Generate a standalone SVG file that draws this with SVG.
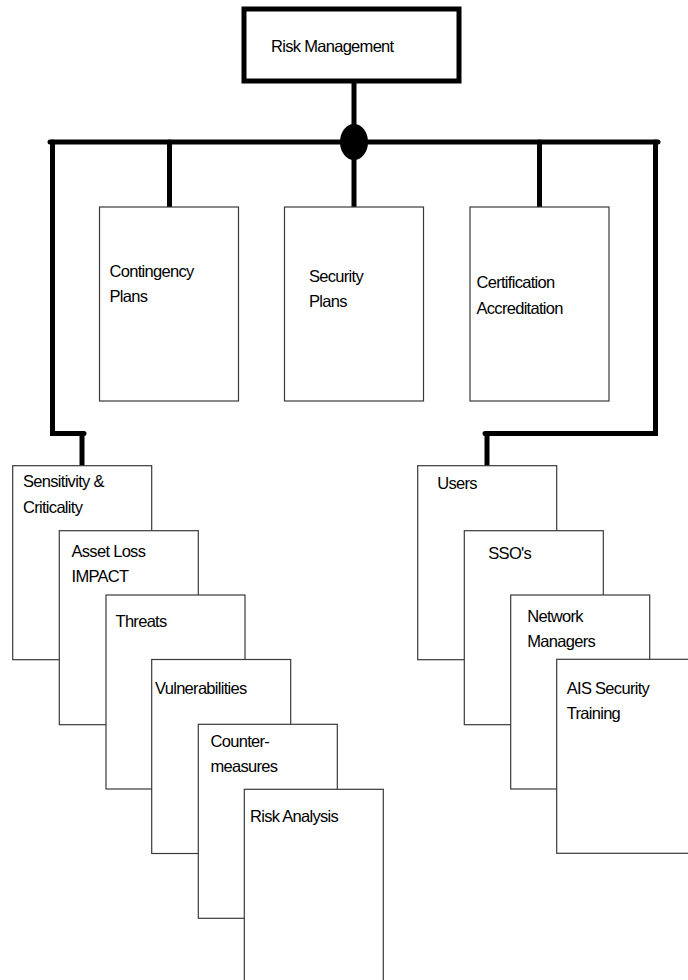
<svg xmlns="http://www.w3.org/2000/svg" width="688" height="980" viewBox="0 0 688 980">
<style>
.box{fill:#fff;stroke:#3a3a3a;stroke-width:1.2}
.top{fill:#fff;stroke:#000;stroke-width:5}
.wire{fill:none;stroke:#000;stroke-width:5;stroke-linecap:round;stroke-linejoin:miter}
text{font-family:"Liberation Sans",Arial,sans-serif;font-size:16.5px;fill:#000;letter-spacing:-0.7px}
</style>
<rect width="688" height="980" fill="#fff"/>
<g id="connectors">
<line class="wire" x1="354" y1="81" x2="354" y2="207"/>
<line class="wire" x1="50" y1="142" x2="658" y2="142"/>
<polyline class="wire" points="52.5,142 52.5,433.5 84,433.5"/>
<line class="wire" x1="82" y1="433.5" x2="82" y2="466"/>
<line class="wire" x1="169.5" y1="142" x2="169.5" y2="207"/>
<line class="wire" x1="539.5" y1="142" x2="539.5" y2="207"/>
<polyline class="wire" points="655.5,142 655.5,433.5 485,433.5"/>
<line class="wire" x1="487" y1="433.5" x2="487" y2="466"/>
<ellipse cx="354" cy="142" rx="14" ry="18" fill="#000"/>
</g>
<g id="risk-management">
<rect class="top" x="244" y="9" width="215" height="72"/>
<text x="271" y="52">Risk Management</text>
</g>
<g id="contingency-plans">
<rect class="box" x="99.5" y="207" width="139" height="194"/>
<text x="109.5" y="277">Contingency</text>
<text x="109.5" y="302">Plans</text>
</g>
<g id="security-plans">
<rect class="box" x="284.5" y="207" width="139" height="194"/>
<text x="309" y="282">Security</text>
<text x="309" y="307">Plans</text>
</g>
<g id="certification-accreditation">
<rect class="box" x="470" y="207" width="139" height="194"/>
<text x="476.5" y="288">Certification</text>
<text x="476.5" y="313.5">Accreditation</text>
</g>
<g id="sensitivity-criticality">
<rect class="box" x="12.7" y="465.7" width="139" height="194"/>
<text x="23" y="487">Sensitivity &amp;</text>
<text x="23" y="513">Criticality</text>
</g>
<g id="asset-loss-impact">
<rect class="box" x="59.3" y="530.7" width="139" height="194"/>
<text x="71.5" y="557">Asset Loss</text>
<text x="71.5" y="582">IMPACT</text>
</g>
<g id="threats">
<rect class="box" x="106" y="595" width="139" height="194"/>
<text x="115.5" y="627">Threats</text>
</g>
<g id="vulnerabilities">
<rect class="box" x="151.7" y="659.5" width="139" height="194"/>
<text x="155" y="693.5">Vulnerabilities</text>
</g>
<g id="countermeasures">
<rect class="box" x="198.3" y="724.3" width="139" height="194"/>
<text x="210.5" y="747">Counter-</text>
<text x="210.5" y="772">measures</text>
</g>
<g id="risk-analysis">
<rect class="box" x="244.3" y="789.3" width="139" height="194"/>
<text x="250" y="822">Risk Analysis</text>
</g>
<g id="users">
<rect class="box" x="417.7" y="465.7" width="139" height="194"/>
<text x="437.3" y="488.5">Users</text>
</g>
<g id="ssos">
<rect class="box" x="464.3" y="530.7" width="139" height="194"/>
<text x="488.3" y="558.5">SSO's</text>
</g>
<g id="network-managers">
<rect class="box" x="510.7" y="595" width="139" height="194"/>
<text x="527.3" y="622">Network</text>
<text x="527.3" y="647">Managers</text>
</g>
<g id="ais-security-training">
<rect class="box" x="556.7" y="659.3" width="139" height="194"/>
<text x="566.7" y="693.5">AIS Security</text>
<text x="566.7" y="718.5">Training</text>
</g>
</svg>
